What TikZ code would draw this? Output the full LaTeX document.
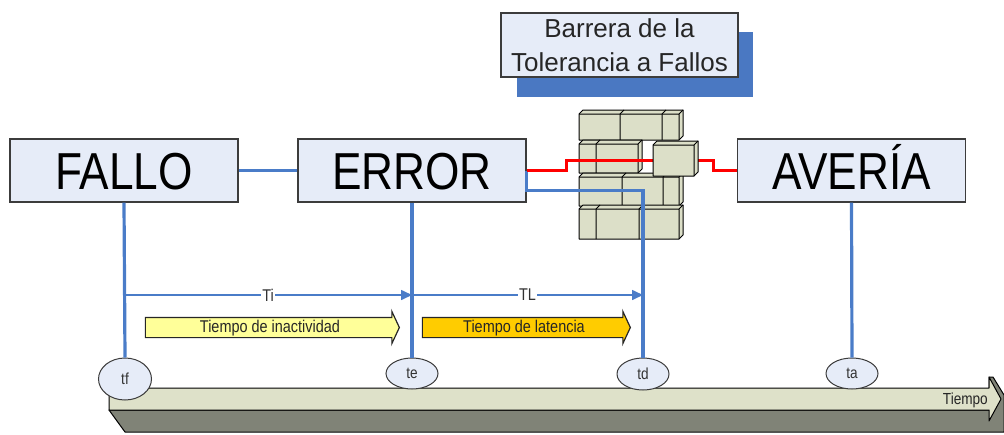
\documentclass[tikz,border=0pt]{standalone}
\usepackage{fontspec}
\setmainfont{Liberation Sans}
\newfontfamily\narrowsf[FakeStretch=0.85]{Liberation Sans}
\usetikzlibrary{shapes.geometric,shapes.arrows,arrows.meta}

\definecolor{boxfill}{HTML}{E6ECF8}
\definecolor{boxline}{HTML}{3C3C3C}
\definecolor{linkblue}{HTML}{4A7CC8}
\definecolor{shadowblue}{HTML}{4A78C2}
\definecolor{brickfill}{HTML}{DCDFC8}
\definecolor{barlight}{HTML}{DEE1C9}
\definecolor{bardark}{HTML}{808377}
\definecolor{inactfill}{HTML}{FFFF99}
\definecolor{latfill}{HTML}{FFCC00}

\tikzset{
  stagebox/.style={draw=boxline, line width=1.3pt, fill=boxfill,
    minimum width=228pt, minimum height=63pt, inner sep=0pt,
    font=\narrowsf\fontsize{52}{60}\selectfont, text height=37pt, text depth=0pt},
  instant/.style={ellipse, draw=boxline, line width=1pt, fill=boxfill,
    minimum width=52pt, minimum height=31pt, inner sep=0pt,
    font=\narrowsf\fontsize{16}{18}\selectfont, text=black!80},
  link/.style={linkblue, line width=3.2pt},
  span/.style={linkblue, line width=1.6pt, -{Triangle[length=11pt,width=10pt]}},
  spanlabel/.style={fill=white, inner sep=1.5pt,
    font=\narrowsf\fontsize{17}{19}\selectfont, text=black!80},
  phase/.style={single arrow, draw=black!85, line width=1.2pt,
    single arrow head extend=6pt, single arrow tip angle=130,
    inner xsep=2pt, inner ysep=2pt, text height=12pt, text depth=3pt,
    font=\narrowsf\fontsize{17}{19}\selectfont, text=black!85},
  brickedge/.style={draw=black, line width=1pt, line join=round},
}

% one 3D block of the wall: left, top, right, bottom (depth 4)
\newcommand\wallblock[4]{%
  \filldraw[brickedge, fill=brickfill]
    (#1,#2+4) -- (#1+4,#2) -- (#3,#2) -- (#3,#4-4) -- (#3-4,#4) -- (#1,#4) -- cycle;
  \draw[brickedge] (#1,#2+4) -- (#3-4,#2+4) -- (#3-4,#4) (#3-4,#2+4) -- (#3,#2);
}
% a row of bricks with joints at the listed x positions
\newcommand\wallrow[5]{%
  \wallblock{#1}{#2}{#3}{#4}%
  \foreach \jx in {#5} {\draw[brickedge] (\jx,#4) -- (\jx,#2+4) -- (\jx+4,#2);}
}

\begin{document}
\begin{tikzpicture}[x=1pt, y=-1pt]
\useasboundingbox (0,0) rectangle (1004,434);

% barrier title with its shadow
\fill[shadowblue] (517,32) rectangle (753,97);
\node[draw=boxline, line width=1.3pt, fill=boxfill, minimum width=237pt,
      minimum height=64pt, inner sep=0pt, align=center,
      font=\fontsize{26}{34}\selectfont, text=black!85] (barrera) at (619.5,45)
      {Barrera de la\\Tolerancia a Fallos};

% stages
\node[stagebox] (fallo)  at (124,170.5) {FALLO};
\node[stagebox] (error)  at (412,170.5) {ERROR};
\node[stagebox] (averia) at (851.5,170.5) {AVERÍA};

% time axis (3D arrow)
\fill[bardark, draw=black, line width=1pt, line join=round]
  (109,410) -- (125,432) -- (1004,432) -- (1004,395) -- (993,377)
  -- (989,377) -- (989,410) -- cycle;
\fill[barlight, draw=black, line width=1pt, line join=round]
  (109,388) -- (989,388) -- (989,377) -- (1001,399) -- (989,421)
  -- (989,410) -- (109,410) -- cycle;
\node[anchor=east, inner sep=0pt, font=\narrowsf\fontsize{16}{18}\selectfont,
      text=black!85] (tiempo) at (988,400) {Tiempo};

% instants
\node[instant, minimum width=53pt, minimum height=42pt] (tf) at (125,379) {tf};
\node[instant] (te) at (412,373.5) {te};
\node[instant, minimum height=32pt] (td) at (643,374) {td};
\node[instant] (ta) at (852,373.5) {ta};

% fault-tolerance wall
\wallrow{579}{110}{683}{140}{620,662}
\wallrow{579}{140}{642}{173}{596}
\wallrow{579}{173}{683}{206}{622,663}
\wallrow{579}{205}{683}{239}{596,639}

% links
\draw[link] (fallo.east) -- (error.west);
\draw[link] (fallo.south) -- (tf.north);
\draw[link] (error.south) -- (te.north);
\draw[link] (averia.south) -- (ta.north);
\draw[link] (error.east) -- ++(0,20) -| (td.north);
\draw[red, line width=3.2pt] (error.east) -- ++(40,0) -- ++(0,-10)
  -- ++(147,0) |- (averia.west);

% protruding brick hides the error path
\wallblock{653}{141}{698}{176}

% intervals
\coordinate (spanY) at (0,295);
\draw[span] (fallo.south |- spanY) -- node[spanlabel] {Ti} (error.south |- spanY);
\draw[span] (error.south |- spanY) -- node[spanlabel] {TL} (td.north |- spanY);

\node[phase, fill=inactfill, minimum height=254pt] (inact) at (270,327.5)
  {Tiempo de inactividad};
\node[phase, fill=latfill, minimum height=208pt] (lat) at (524,327.5)
  {Tiempo de latencia};
\end{tikzpicture}
\end{document}
